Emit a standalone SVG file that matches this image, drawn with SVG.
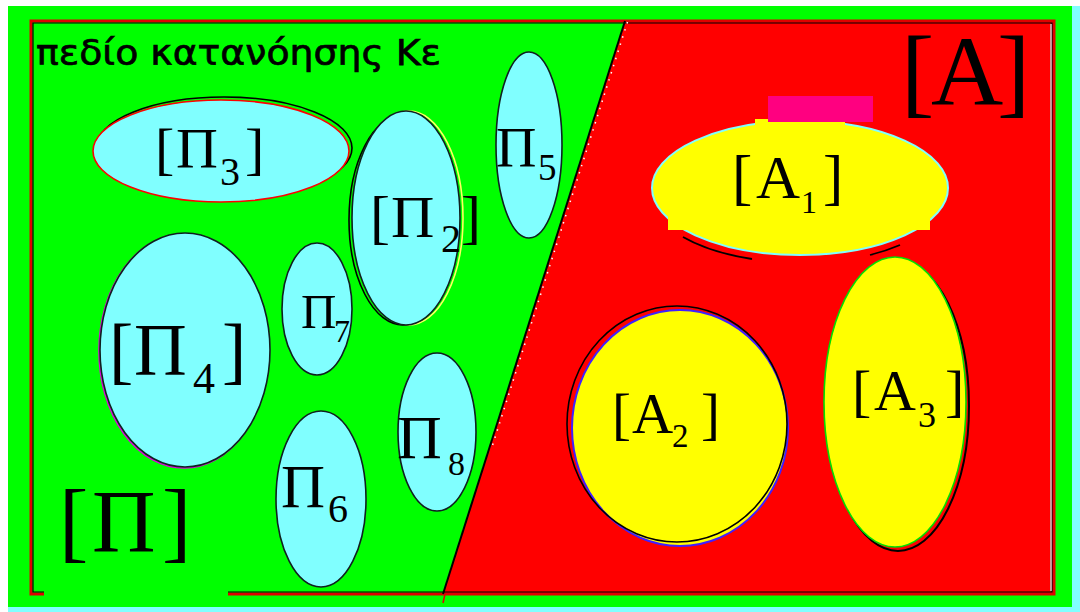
<svg xmlns="http://www.w3.org/2000/svg" width="1080" height="612" viewBox="0 0 1080 612">
<style>
.t{font-family:"Liberation Serif","Times New Roman",serif;fill:#000}
.ttl{font-family:"DejaVu Sans","Verdana",sans-serif;fill:#000;stroke:#000;stroke-width:0.7}
.pi{fill:#80FFFF;stroke:#102020;stroke-width:1.6}
.ay{fill:#FFFF00}
</style>
<rect x="0" y="0" width="1080" height="612" fill="#FFFFFF"/>
<rect x="8" y="6" width="1072" height="606" fill="#80FFFF"/>
<rect x="8" y="6" width="1064" height="601" fill="#00FF00"/>
<g id="region-A">
<polygon points="625,21 1054,21 1054,594 443,594" fill="#FF0000"/>
</g>
<g id="frame" fill="none">
<polyline points="44,594 31,594 31,21 1054,21 1054,594 228,594" stroke="#E00000" stroke-width="3"/>
<polyline points="44,592 33,592 33,23 1052,23 1052,592 228,592" stroke="#000" stroke-width="1.2"/>
<line x1="1051" y1="24" x2="1051" y2="591" stroke="#C8C8C8" stroke-width="1.5"/>
<line x1="445" y1="594" x2="443" y2="603" stroke="#E00000" stroke-width="1.5"/>
</g>
<g id="connectors" fill="none">
<line x1="625" y1="21" x2="443" y2="594" stroke="#000" stroke-width="2"/>
<line x1="627.5" y1="22" x2="492" y2="447" stroke="#FFF" stroke-width="1.5" stroke-dasharray="1.5 6"/>
</g>
<g id="title">
<text class="ttl" x="36" y="65" font-size="36" textLength="405" lengthAdjust="spacingAndGlyphs">πεδίο κατανόησης Κε</text>
</g>
<g id="P3">
<ellipse cx="224" cy="148" rx="128" ry="51" fill="none" stroke="#000" stroke-width="1.6"/>
<ellipse cx="221" cy="151" rx="128" ry="51" fill="#80FFFF" stroke="#FF0000" stroke-width="1.6"/>
<text class="t" y="168" font-size="58"><tspan x="155">[</tspan><tspan x="176">Π</tspan><tspan x="220" y="185" font-size="40">3</tspan><tspan x="245" y="168">]</tspan></text>
</g>
<g id="P2">
<ellipse cx="409" cy="218" rx="54" ry="107" fill="none" stroke="#FFFF60" stroke-width="1.6"/>
<ellipse cx="403" cy="220" rx="54" ry="105" fill="none" stroke="#000" stroke-width="1.6"/>
<ellipse cx="406" cy="218" rx="54" ry="107" class="pi"/>
<text class="t" y="237" font-size="60"><tspan x="370">[</tspan><tspan x="391">Π</tspan><tspan x="441" y="252" font-size="40">2</tspan><tspan x="461" y="237">]</tspan></text>
</g>
<g id="P5">
<ellipse cx="529" cy="145" rx="33" ry="93" class="pi"/>
<text class="t" y="167" font-size="56"><tspan x="496">Π</tspan><tspan x="538" y="180" font-size="37">5</tspan></text>
</g>
<g id="P4">
<ellipse cx="184" cy="351" rx="85" ry="117" fill="none" stroke="#E000E0" stroke-width="1.6"/>
<ellipse cx="185" cy="350" rx="85" ry="117" class="pi"/>
<text class="t" y="375" font-size="73"><tspan x="109">[</tspan><tspan x="134">Π</tspan><tspan x="193" y="393" font-size="44">4</tspan><tspan x="222" y="375">]</tspan></text>
</g>
<g id="P7">
<ellipse cx="317" cy="309" rx="35" ry="66" class="pi"/>
<text class="t" y="328" font-size="49"><tspan x="301">Π</tspan><tspan x="334" y="342" font-size="32">7</tspan></text>
</g>
<g id="P8">
<ellipse cx="437" cy="432" rx="39" ry="79" class="pi"/>
<text class="t" y="458" font-size="62"><tspan x="397">Π</tspan><tspan x="448" y="475" font-size="34">8</tspan></text>
</g>
<g id="P6">
<ellipse cx="321" cy="499" rx="45" ry="88" class="pi"/>
<text class="t" y="507" font-size="61"><tspan x="281">Π</tspan><tspan x="328" y="522" font-size="40">6</tspan></text>
</g>
<g id="P">
<text class="t" y="551" font-size="88"><tspan x="59">[</tspan><tspan x="92">Π</tspan><tspan x="162">]</tspan></text>
</g>
<g id="A">
<text class="t" y="105" font-size="100"><tspan x="901">[</tspan><tspan x="931">A</tspan><tspan x="997">]</tspan></text>
</g>
<g id="A1">
<path d="M683,237 A148,67 0 0,0 752,259 M870,255 A148,67 0 0,0 900,245" fill="none" stroke="#000" stroke-width="1.8"/>
<ellipse cx="800" cy="188" rx="148" ry="67" class="ay" stroke="#80FFFF" stroke-width="2"/>
<rect x="668" y="200" width="262" height="30" class="ay"/>
<rect x="755" y="119" width="90" height="8" class="ay"/>
<rect x="768" y="96" width="105" height="26" fill="#FF0080"/>
<text class="t" y="198" font-size="61"><tspan x="732">[</tspan><tspan x="756">A</tspan><tspan x="801" y="213" font-size="32">1</tspan><tspan x="823" y="198">]</tspan></text>
</g>
<g id="A2">
<ellipse cx="680" cy="428" rx="108" ry="118" class="ay" stroke="#4020FF" stroke-width="2"/>
<ellipse cx="677" cy="424" rx="110" ry="118" fill="none" stroke="#000" stroke-width="1.6"/>
<text class="t" y="433" font-size="57"><tspan x="612">[</tspan><tspan x="632">A</tspan><tspan x="672" y="447" font-size="33">2</tspan><tspan x="701" y="433">]</tspan></text>
</g>
<g id="A3">
<ellipse cx="898" cy="406" rx="71" ry="145" fill="none" stroke="#000" stroke-width="2"/>
<ellipse cx="895" cy="402" rx="71" ry="145" class="ay" stroke="#00E000" stroke-width="1.6"/>
<text class="t" y="410" font-size="58"><tspan x="852">[</tspan><tspan x="874">A</tspan><tspan x="918" y="427" font-size="36">3</tspan><tspan x="945" y="410">]</tspan></text>
</g>
</svg>
